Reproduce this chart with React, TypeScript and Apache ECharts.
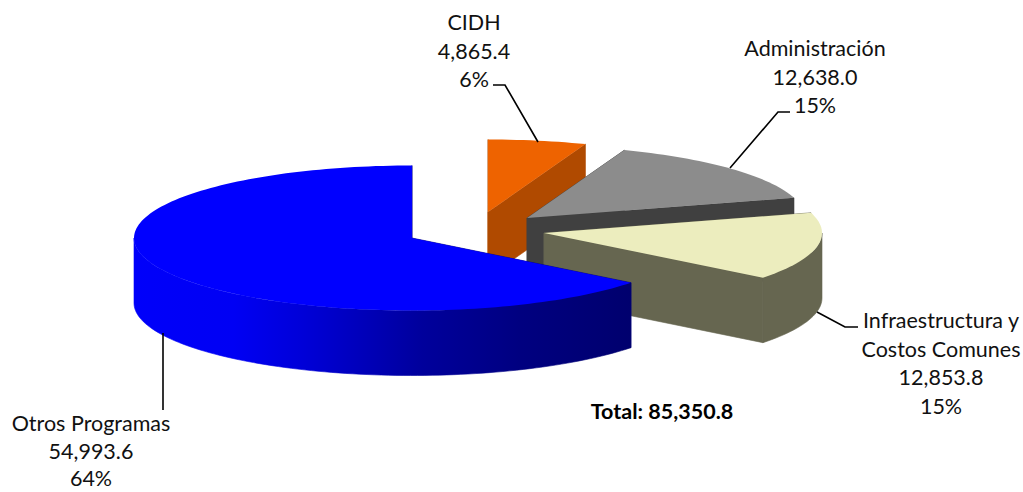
import React, { useEffect, useRef } from "react";
import * as echarts from "echarts";

// ---- data ----
const categories = ["CIDH", "Administración", "Infraestructura y\nCostos Comunes", "Otros Programas"];
const amounts = [4865.4, 12638.0, 12853.8, 54993.6];
const percents = ["6%", "15%", "15%", "64%"];
const totalLabel = "Total: 85,350.8";

// ---- styling / layout ----
const RADIUS_X = 278;
const RADIUS_Y = 72.5;
const DEPTH = 65;
const centres = [
  [488, 212],
  [527, 218],
  [544, 233],
  [412, 238],
];
const topColours = ["#EE6300", "#8C8C8C", "#ECEDBE", "#0000FF"];
const cutColours = ["#B04A00", "#404040", "#666650", "#000080"];
const wallColours: any[] = [
  "#B04A00",
  "#404040",
  "#666650",
  new echarts.graphic.LinearGradient(0, 0, 1, 0, [
    { offset: 0, color: "#0000FA" },
    { offset: 0.2, color: "#0000F4" },
    { offset: 0.34, color: "#0000D8" },
    { offset: 0.58, color: "#00009C" },
    { offset: 0.78, color: "#000080" },
    { offset: 1, color: "#00006E" },
  ]),
];
const labelAnchors = [
  [474, 22],
  [815, 48],
  [941, 320],
  [91, 423],
];
const lineSteps = [28.5, 28.5, 28.5, 27.5];
const leaders = [
  [[493, 85], [505, 85], [538, 142]],
  [[730, 168], [778, 112], [790, 112]],
  [[817, 312], [845, 327], [858, 327]],
  [[163, 333], [163, 410]],
];

const FONT = "Lato, Carlito, sans-serif";
const total = amounts.reduce((a, b) => a + b, 0);

function fmt(v: number) {
  return v.toLocaleString("en-US", { minimumFractionDigits: 1, maximumFractionDigits: 1 });
}

function renderSlice(params: any, api: any) {
  const i = params.dataIndex;
  let before = 0;
  for (let k = 0; k < i; k++) before += amounts[k];
  const start = (before / total) * 360;
  const end = ((before + api.value(0)) / total) * 360;
  const [cx, cy] = centres[i];
  const pt = (deg: number, dy = 0) => {
    const r = (deg * Math.PI) / 180;
    return [cx + RADIUS_X * Math.sin(r), cy - RADIUS_Y * Math.cos(r) + dy];
  };
  const arc = (a: number, b: number, dy = 0) => {
    const out: number[][] = [];
    const n = Math.max(2, Math.ceil((b - a) / 1.5));
    for (let s = 0; s <= n; s++) out.push(pt(a + ((b - a) * s) / n, dy));
    return out;
  };
  const poly = (points: number[][], fill: any, seam = false) => ({
    type: "polygon",
    shape: { points },
    style: seam ? { fill, stroke: fill, lineWidth: 0.6 } : { fill, stroke: "none" },
  });
  const children: any[] = [];
  const cut = (deg: number) =>
    poly([[cx, cy], pt(deg), pt(deg, DEPTH), [cx, cy + DEPTH]], cutColours[i], true);
  children.push(cut(start));
  children.push(cut(end));
  const wa = Math.max(start, 90);
  const wb = Math.min(end, 270);
  if (wb > wa) {
    children.push(poly([...arc(wa, wb), ...arc(wa, wb, DEPTH).reverse()], wallColours[i], true));
  }
  children.push(poly([[cx, cy], ...arc(start, end)], topColours[i]));
  return { type: "group", children };
}

export default function App() {
  const ref = useRef<HTMLDivElement>(null);
  useEffect(() => {
    if (!ref.current) return;
    const chart = echarts.init(ref.current, undefined, { renderer: "svg" });
    const labels = categories.flatMap((name, i) =>
      `${name}\n${fmt(amounts[i])}\n${percents[i]}`.split("\n").map((line, k) => ({
        type: "text",
        x: labelAnchors[i][0],
        y: labelAnchors[i][1] + k * lineSteps[i],
        z: 10,
        style: {
          text: line,
          font: `21.5px ${FONT}`,
          fill: "#111",
          align: "center",
          verticalAlign: "middle",
        },
      }))
    );
    const lines = leaders.map((points) => ({
      type: "polyline",
      z: 9,
      shape: { points },
      style: { stroke: "#000", lineWidth: 1.6, fill: "none" },
    }));
    chart.setOption({
      animation: false,
      backgroundColor: "#fff",
      series: [
        {
          type: "custom",
          coordinateSystem: "none",
          silent: true,
          clip: false,
          renderItem: renderSlice,
          data: amounts.map((v) => [v]),
        },
      ],
      graphic: [
        ...lines,
        ...labels,
        {
          type: "text",
          x: 662,
          y: 411,
          z: 10,
          style: {
            text: totalLabel,
            font: `bold 21.5px ${FONT}`,
            fill: "#000",
            align: "center",
            verticalAlign: "middle",
          },
        },
      ],
    });
    return () => chart.dispose();
  }, []);
  return (
    <div
      ref={ref}
      style={{ position: "fixed", left: 0, top: 0, width: 1023, height: 492 }}
    />
  );
}
